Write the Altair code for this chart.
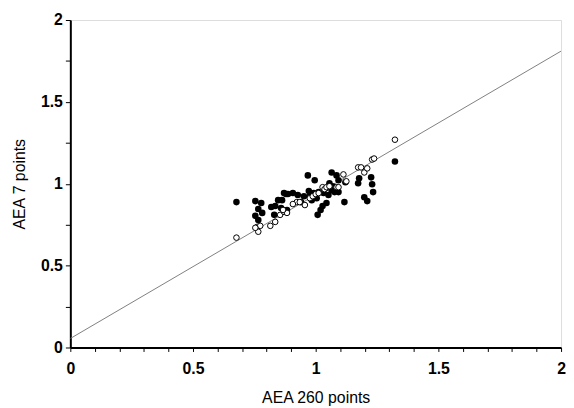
import altair as alt
import pandas as pd

# Filled points (AEA 260 points, AEA 7 points)
filled_x = [0.677, 0.754, 0.778, 0.766, 0.754, 0.782, 0.766, 0.819, 0.835, 0.831,
            0.863, 0.879, 0.887, 0.859, 0.883, 0.927, 0.940, 0.968, 0.996, 0.972,
            0.992, 1.012, 1.032, 1.004, 1.028, 1.020, 1.008, 1.044, 1.065, 1.056,
            1.085, 1.093, 1.065, 1.052, 1.077, 1.093, 1.117, 1.121, 1.177, 1.173,
            1.198, 1.210, 1.226, 1.230, 1.234, 1.323, 0.952, 0.976, 0.984, 1.040,
            1.069, 0.871, 0.907, 0.847]
filled_y = [0.888, 0.894, 0.882, 0.846, 0.804, 0.822, 0.779, 0.858, 0.864, 0.810,
            0.900, 0.937, 0.937, 0.852, 0.840, 0.931, 0.888, 1.051, 1.021, 0.955,
            0.943, 0.949, 0.943, 0.912, 0.864, 0.840, 0.810, 0.882, 1.069, 1.003,
            1.051, 1.021, 0.961, 0.931, 0.949, 0.949, 0.888, 1.009, 1.033, 1.003,
            0.918, 0.894, 1.039, 0.997, 0.949, 1.136, 0.924, 0.924, 0.900, 0.973,
            0.985, 0.943, 0.943, 0.900]

# Open points
open_x = [0.677, 0.762, 0.774, 0.766, 0.754, 0.815, 0.835, 0.855, 0.871, 0.883,
          0.867, 0.923, 0.935, 0.907, 0.956, 0.976, 0.988, 1.000, 1.012, 1.028,
          1.036, 1.044, 1.056, 1.085, 1.093, 1.113, 1.125, 1.173, 1.185, 1.198,
          1.210, 1.230, 1.238, 1.323]
open_y = [0.671, 0.737, 0.743, 0.707, 0.731, 0.743, 0.767, 0.810, 0.828, 0.822,
          0.840, 0.888, 0.888, 0.876, 0.870, 0.912, 0.924, 0.937, 0.943, 0.979,
          0.967, 0.979, 0.985, 0.979, 0.979, 1.057, 1.015, 1.100, 1.100, 1.069,
          1.094, 1.148, 1.154, 1.269]

# Reference line
line_x = [0.0, 2.0]
line_y = [0.055, 1.81]

x_ticks = [round(i * 0.1, 1) for i in range(21)]
y_ticks = [i * 0.25 for i in range(9)]

df_f = pd.DataFrame({"x": filled_x, "y": filled_y})
df_o = pd.DataFrame({"x": open_x, "y": open_y})
df_l = pd.DataFrame({"x": line_x, "y": line_y})

xscale = alt.Scale(domain=[0, 2], nice=False, zero=True)
yscale = alt.Scale(domain=[0, 2], nice=False, zero=True)

label_expr = "(abs(datum.value*2 - round(datum.value*2)) < 0.001) ? format(datum.value, '') : ''"

common = dict(grid=False, domainColor="black", domainWidth=2, tickColor="black",
              tickWidth=1, labelFont="Liberation Sans", labelFontWeight="bold",
              labelFontSize=16, labelColor="black", titleFont="Liberation Sans",
              titleFontWeight="normal", titleFontSize=16, titleColor="black",
              labelFlush=False, labelOverlap=False, labelExpr=label_expr)

xaxis = alt.Axis(values=x_ticks, tickCount=len(x_ticks), title="AEA 260 points",
                 tickSize=4, labelPadding=9, titlePadding=14, **common)
yaxis = alt.Axis(values=y_ticks, tickCount=len(y_ticks), title="AEA 7 points",
                 tickSize=5, labelPadding=3, titlePadding=13, **common)

line = alt.Chart(df_l).mark_line(color="#808080", strokeWidth=1, clip=True).encode(
    x=alt.X("x:Q", scale=xscale, axis=xaxis),
    y=alt.Y("y:Q", scale=yscale, axis=yaxis),
)
filled = alt.Chart(df_f).mark_point(filled=True, color="black", size=44, opacity=1).encode(
    x=alt.X("x:Q", scale=xscale),
    y=alt.Y("y:Q", scale=yscale),
)
opened = alt.Chart(df_o).mark_point(filled=False, fill="white", fillOpacity=1, stroke="black",
                                    strokeWidth=1, size=32, opacity=1).encode(
    x=alt.X("x:Q", scale=xscale),
    y=alt.Y("y:Q", scale=yscale),
)

chart = alt.layer(line, filled, opened).properties(
    width=496, height=331,
    autosize=alt.AutoSizeParams(type="none"),
    padding={"left": 63, "top": 10, "right": 5, "bottom": 58},
).configure_view(stroke="#666666", strokeWidth=2).configure(background="white")

chart.save("out.html", embed_options={"renderer": "svg", "actions": False})
